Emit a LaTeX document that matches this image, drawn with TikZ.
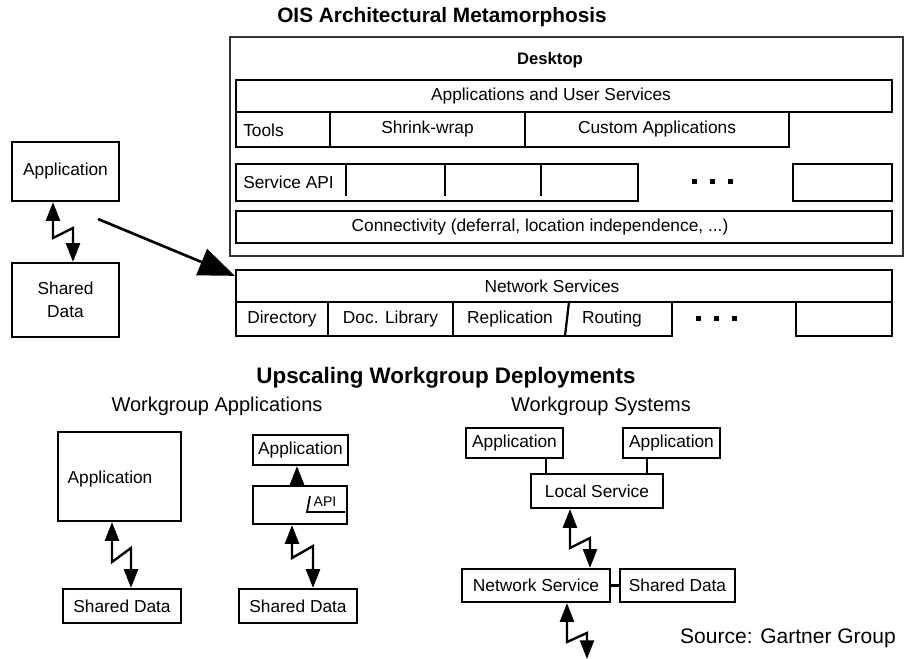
\documentclass[tikz,border=0pt]{standalone}
\usepackage{fontspec}
\setmainfont{Liberation Sans}
\usetikzlibrary{arrows.meta}

\newcommand\boxfont{\fontsize{13}{17}\selectfont}
\tikzset{
  box/.style={draw, line width=1.7pt, inner sep=0pt, font=\boxfont, align=center},
  outerbox/.style={draw=black!80, line width=1.3pt, inner sep=0pt},
  lbl/.style={inner sep=0pt, font=\boxfont},
  smalllbl/.style={inner sep=0pt, font=\fontsize{10.5}{12}\selectfont},
  heading/.style={inner sep=0pt, font=\fontsize{15}{18}\selectfont},
  bighead/.style={inner sep=0pt, font=\bfseries\fontsize{16.8}{20}\selectfont},
  deskhead/.style={inner sep=0pt, font=\bfseries\fontsize{12.5}{15}\selectfont},
  divider/.style={line width=1.7pt},
  bolt/.style={line width=1.8pt, line join=miter,
    arrows={Triangle[width=10.5pt,length=14pt]-Triangle[width=10.5pt,length=14pt]}},
  tip/.style={line width=1.8pt, arrows={-Triangle[width=10.5pt,length=14pt]}},
  bigarrow/.style={line width=2pt, arrows={-Triangle[width=21pt,length=27pt]}},
  plain/.style={line width=1.7pt},
}
% box node spanning the rectangle (x1,y1)--(x2,y2), sizes given in px
\newcommand\bx[7][]{\node[box,#1,
  minimum width={(#5-#3)*0.75pt}, minimum height={(#6-#4)*0.75pt}]
  (#2) at ({(#3+#5)/2},{(#4+#6)/2}) {#7};}
% three square dots
\newcommand\threedots[2]{%
  \foreach \dx in {-18,0,18}{\fill ({#1+\dx-2.5},{#2-2.5}) rectangle ({#1+\dx+2.5},{#2+2.5});}}

\begin{document}
\begin{tikzpicture}[x=0.75pt,y=-0.75pt]
\useasboundingbox (0,0) rectangle (908,659);

% ---------- OIS architecture ----------
\node[bighead, font=\bfseries\fontsize{15.6}{19}\selectfont] (title1) at (442,17) {OIS Architectural Metamorphosis};

\node[outerbox, minimum width=673*0.75pt, minimum height=219*0.75pt] (desk) at (566.5,146.5) {};
\node[deskhead] (deskl) at (550,60) {Desktop};

\bx{apps}{236}{80}{892}{112}{}
\node[lbl] (appsl) at (551,96.5) {Applications and User Services};

\bx{tools}{236}{112}{330}{147}{}
\node[lbl, anchor=west] (toolsl) at (243,130) {Tools};
\bx{shrink}{330}{112}{525}{147}{Shrink-wrap}
\bx{custom}{525}{112}{789}{147}{Custom Applications}

\bx{svc}{236}{164}{638}{201}{}
\node[lbl, anchor=west] (svcl) at (243,182) {Service API};
\foreach \xx in {346,445,541}{\draw[divider] (\xx,164) -- (\xx,196);}
\threedots{712}{182}
\bx{empty1}{793}{164}{892}{201}{}

\bx{conn}{236}{211}{892}{243}{}
\node[lbl] (connl) at (540,227) {Connectivity (deferral, location independence, ...)};

\bx{nets}{236}{270}{892}{302}{}
\node[lbl] (netsl) at (552,286) {Network Services};
\bx{dir}{236}{302}{328}{336}{Directory}
\bx{doclib}{328}{302}{453}{336}{Doc. Library}
\bx{reprout}{453}{302}{672}{336}{}
\draw[divider] (569,302) -- (565,336);
\node[lbl] (repl) at (510,319) {Replication};
\node[lbl] (routl) at (612,319) {Routing};
\threedots{716}{319}
\bx{empty2}{796}{302}{892}{336}{}

% ---------- single application on shared data ----------
\bx{appA}{12}{142}{119}{201}{Application}
\bx{sdA}{12}{263}{119}{337}{Shared\\Data}
\draw[bolt] (53,0 |- appA.south) -- (53,238) -- (73,228) -- (73,0 |- sdA.north);

\coordinate (bigtail) at (98,219);
\draw[bigarrow] (bigtail) -- ([yshift=-5.25pt]nets.north west);

% ---------- workgroup deployments ----------
\node[bighead] (title2) at (446,378) {Upscaling Workgroup Deployments};
\node[heading] (wal) at (217,406) {Workgroup Applications};
\node[heading] (wsl) at (601,406) {Workgroup Systems};

% application directly on shared data
\bx{appB}{58}{432}{181}{521}{}
\node[lbl] (appBl) at (110,479) {Application};
\bx{sdB}{63}{589}{181}{623}{Shared Data}
\draw[bolt] (112,0 |- appB.south) -- (112,562) -- (131,548) -- (131,0 |- sdB.north);

% application through an API
\bx{appC}{253}{435}{348}{465}{Application}
\bx{apiC}{253}{486}{347}{524}{}
\draw[line width=1.3pt] (310,496) -- (307,512) -- (345,512);
\node[smalllbl] (apil) at (325,502) {API};
\draw[tip] (297,0 |- apiC.north) -- (297,0 |- appC.south);
\bx{sdC}{239}{589}{357}{623}{Shared Data}
\draw[bolt] (292,0 |- apiC.south) -- (292,558) -- (313,546) -- (313,0 |- sdC.north);

% workgroup systems
\bx{appD}{466}{428}{563}{458}{Application}
\bx{appE}{623}{428}{720}{458}{Application}
\bx{loc}{531}{474}{663}{508}{Local Service}
\draw[plain] (546,0 |- appD.south) -- (546,0 |- loc.north);
\draw[plain] (647,0 |- appE.south) -- (647,0 |- loc.north);
\bx{nsv}{462}{569}{610}{602}{Network Service}
\bx{sdD}{620}{569}{735}{602}{Shared Data}
\draw[plain] (nsv.east) -- (sdD.west);
\draw[bolt] (570,0 |- loc.south) -- (570,548) -- (590,538) -- (590,0 |- nsv.north);
\coordinate (netout) at (587,659);
\draw[bolt] (567,0 |- nsv.south) -- (567,642) -- (587,633) -- (netout);

\node[heading, font=\fontsize{15.75}{19}\selectfont] (src) at (788,638) {Source: Gartner Group};
\end{tikzpicture}
\end{document}
